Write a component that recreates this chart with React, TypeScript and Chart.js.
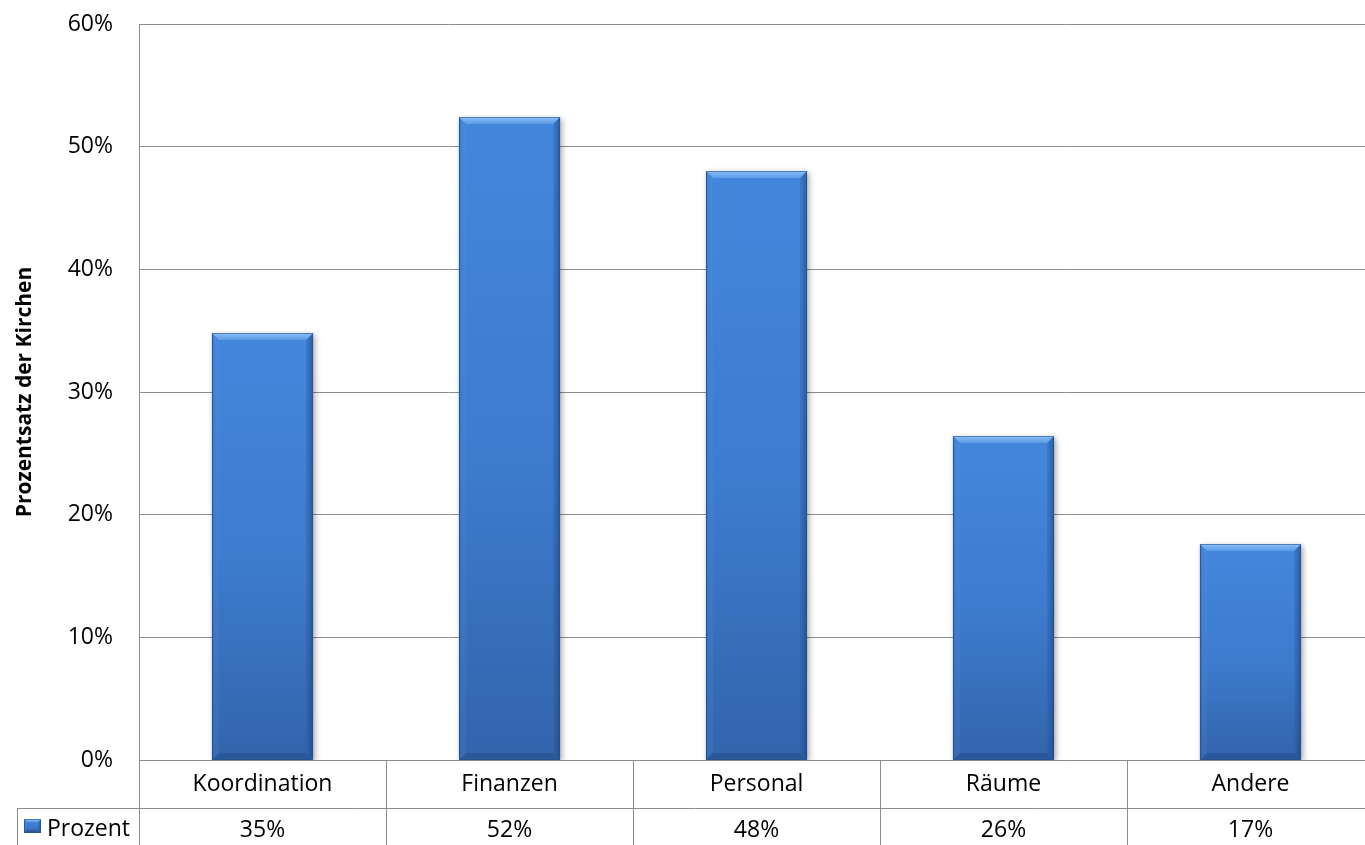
import React, { useEffect, useRef } from "react";
import { Chart, registerables } from "chart.js";

Chart.register(...registerables);

const categories = ["Koordination", "Finanzen", "Personal", "Räume", "Andere"];
const values = [34.8, 52.4, 48.0, 26.4, 17.6];
const tableLabels = ["35%", "52%", "48%", "26%", "17%"];
const seriesName = "Prozent";
const yMin = 0;
const yMax = 60;
const yStep = 10;
const yTitle = "Prozentsatz der Kirchen";

const FONT = "'Open Sans', sans-serif";
const LINE = "#8c8c8c";

function drawBevelBar(ctx: CanvasRenderingContext2D, left: number, top: number, right: number, bottom: number, b: number) {
  const w = right - left;
  const h = bottom - top;
  if (w <= 0 || h <= 0) return;
  const bb = Math.min(b, h / 2, w / 2);
  const g = ctx.createLinearGradient(0, top, 0, bottom);
  g.addColorStop(0, "#4387dc");
  g.addColorStop(0.55, "#3d7bcd");
  g.addColorStop(1, "#3264ab");
  ctx.fillStyle = g;
  ctx.fillRect(left, top, w, h);
  ctx.beginPath();
  ctx.moveTo(left, top);
  ctx.lineTo(left + bb, top + bb);
  ctx.lineTo(left + bb, bottom - bb);
  ctx.lineTo(left, bottom);
  ctx.closePath();
  const gl = ctx.createLinearGradient(left, 0, left + bb, 0);
  gl.addColorStop(0, "rgba(30,70,130,0.55)");
  gl.addColorStop(0.35, "rgba(70,130,210,0.25)");
  gl.addColorStop(1, "rgba(90,150,225,0.15)");
  ctx.fillStyle = gl;
  ctx.fill();
  ctx.beginPath();
  ctx.moveTo(right, top);
  ctx.lineTo(right - bb, top + bb);
  ctx.lineTo(right - bb, bottom - bb);
  ctx.lineTo(right, bottom);
  ctx.closePath();
  const gr = ctx.createLinearGradient(right - bb, 0, right, 0);
  gr.addColorStop(0, "rgba(40,90,160,0.25)");
  gr.addColorStop(1, "rgba(25,60,115,0.6)");
  ctx.fillStyle = gr;
  ctx.fill();
  ctx.beginPath();
  ctx.moveTo(left, top);
  ctx.lineTo(right, top);
  ctx.lineTo(right - bb, top + bb);
  ctx.lineTo(left + bb, top + bb);
  ctx.closePath();
  const gt = ctx.createLinearGradient(0, top, 0, top + bb);
  gt.addColorStop(0, "#8cc0f6");
  gt.addColorStop(1, "#5b9be8");
  ctx.fillStyle = gt;
  ctx.fill();
  ctx.beginPath();
  ctx.moveTo(left, bottom);
  ctx.lineTo(right, bottom);
  ctx.lineTo(right - bb, bottom - bb);
  ctx.lineTo(left + bb, bottom - bb);
  ctx.closePath();
  ctx.fillStyle = "rgba(30,70,130,0.4)";
  ctx.fill();
  ctx.strokeStyle = "rgba(40,80,140,0.6)";
  ctx.lineWidth = 1;
  ctx.strokeRect(left + 0.5, top + 0.5, w - 1, h - 1);
}

const bevelPlugin = {
  id: "bevelBars",
  beforeDatasetsDraw(chart: any) {
    const ctx = chart.ctx;
    ctx.save();
    ctx.shadowColor = "rgba(0,0,0,0.35)";
    ctx.shadowBlur = 6;
    ctx.shadowOffsetX = 2;
    ctx.shadowOffsetY = 2;
  },
  afterDatasetsDraw(chart: any) {
    const ctx = chart.ctx;
    ctx.restore();
    const meta = chart.getDatasetMeta(0);
    ctx.save();
    meta.data.forEach((el: any) => {
      const { x, y, width, base } = el.getProps(["x", "y", "width", "base"], true);
      drawBevelBar(ctx, Math.round(x - width / 2), Math.round(y), Math.round(x + width / 2), Math.round(base), 7);
    });
    ctx.restore();
  },
};

const tablePlugin = {
  id: "dataTable",
  afterDraw(chart: any) {
    const ctx = chart.ctx;
    const area = chart.chartArea;
    const xs = chart.scales.x;
    const n = categories.length;
    const half = (xs.getPixelForValue(1) - xs.getPixelForValue(0)) / 2;
    const top = Math.round(area.bottom);
    const row1 = top + 48;
    const bottomEdge = chart.height + 5;
    const legendLeft = 17;
    ctx.save();
    ctx.strokeStyle = LINE;
    ctx.lineWidth = 1;
    ctx.beginPath();
    ctx.moveTo(area.left, top + 0.5);
    ctx.lineTo(area.right, top + 0.5);
    ctx.moveTo(legendLeft, row1 + 0.5);
    ctx.lineTo(area.right, row1 + 0.5);
    ctx.moveTo(legendLeft + 0.5, row1);
    ctx.lineTo(legendLeft + 0.5, bottomEdge);
    for (let i = 0; i <= n; i++) {
      const px = i === n ? area.right : xs.getPixelForValue(i) - half;
      const sx = Math.round(px) + 0.5;
      ctx.moveTo(sx, top);
      ctx.lineTo(sx, bottomEdge);
    }
    ctx.stroke();

    ctx.fillStyle = "#000";
    ctx.font = `23px ${FONT}`;
    ctx.textAlign = "center";
    ctx.textBaseline = "middle";
    for (let i = 0; i < n; i++) {
      const cx = xs.getPixelForValue(i);
      ctx.fillText(categories[i], cx, top + 24);
      ctx.fillText(tableLabels[i], cx, row1 + 22);
    }
    drawBevelBar(ctx, 24, row1 + 11, 41, row1 + 25, 3);
    ctx.textAlign = "left";
    ctx.fillStyle = "#000";
    ctx.fillText(seriesName, 47, row1 + 21);
    ctx.restore();
  },
};

export default function App() {
  const ref = useRef<HTMLCanvasElement | null>(null);
  useEffect(() => {
    if (!ref.current) return;
    const chart = new Chart(ref.current, {
      type: "bar",
      data: {
        labels: categories,
        datasets: [
          {
            label: seriesName,
            data: values,
            backgroundColor: "#3d7bcd",
            borderWidth: 0,
            categoryPercentage: 1,
            barPercentage: 0.41,
          },
        ],
      },
      options: {
        animation: false,
        responsive: false,
        devicePixelRatio: 1,
        layout: { padding: { top: 24, right: 1, bottom: 85, left: 0 } },
        plugins: {
          legend: { display: false },
          tooltip: { enabled: false },
        },
        scales: {
          x: { display: false },
          y: {
            min: yMin,
            max: yMax,
            afterFit: (s: any) => {
              s.width = 139;
              s.paddingTop = 0;
              s.paddingBottom = 0;
            },
            ticks: {
              stepSize: yStep,
              padding: 26,
              color: "#000",
              font: { family: FONT, size: 23 },
              callback: (v: any) => `${v}%`,
            },
            grid: { color: LINE, lineWidth: 1, drawTicks: false },
            border: { display: true, color: LINE, width: 1 },
            title: {
              display: true,
              text: yTitle,
              color: "#000",
              font: { family: FONT, size: 21, weight: "bold" },
              padding: { top: 12, bottom: 0 },
            },
          },
        },
      },
      plugins: [bevelPlugin, tablePlugin],
    });
    return () => chart.destroy();
  }, []);
  return (
    <div style={{ position: "absolute", left: 0, top: 0, width: 1365, height: 845, overflow: "hidden", background: "#fff" }}>
      <canvas ref={ref} width={1375} height={845} style={{ display: "block", width: 1375, height: 845 }} />
    </div>
  );
}
